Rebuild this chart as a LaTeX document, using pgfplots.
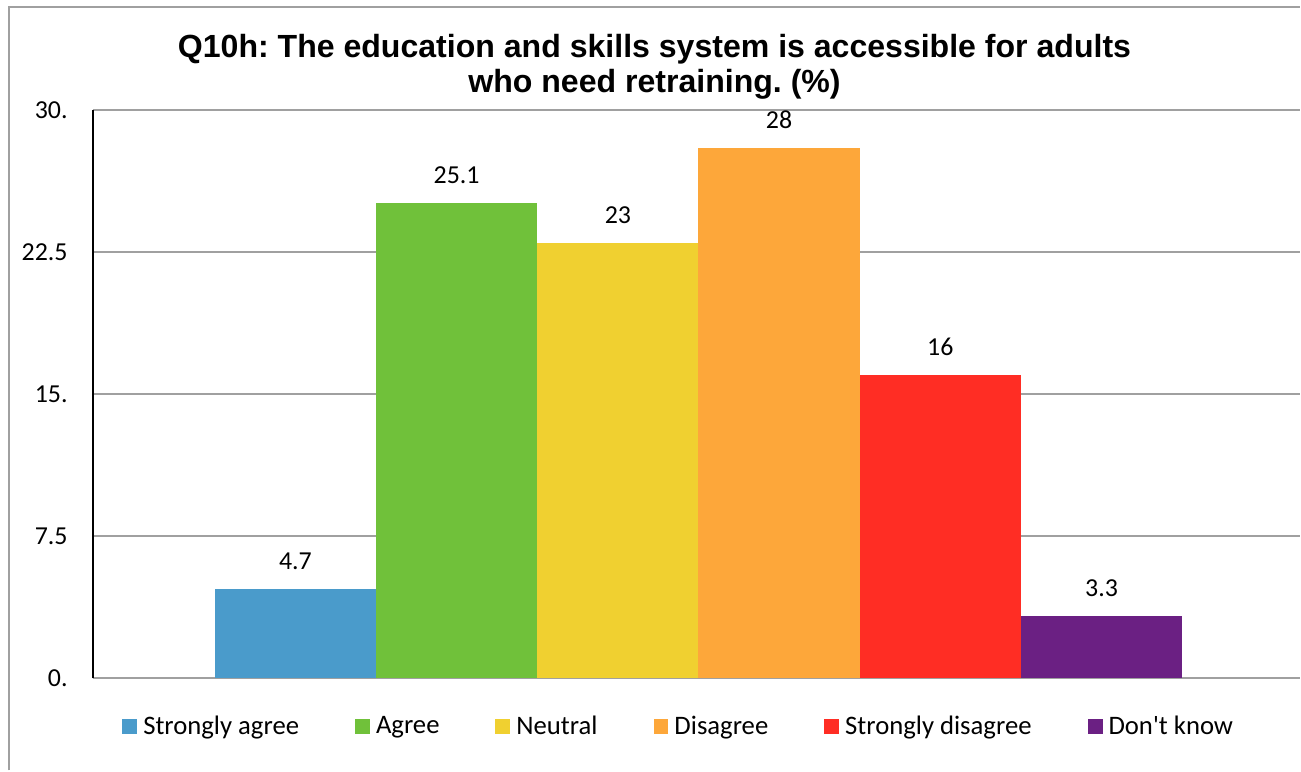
\documentclass[border=0pt]{standalone}
\usepackage{fontspec}
\setmainfont{Carlito}[Ligatures=TeXOff]
\newfontfamily\titlefont{Liberation Sans}
\usepackage{pgfplots}
\pgfplotsset{compat=1.18}
\frenchspacing
\definecolor{cSA}{RGB}{74,155,203}
\definecolor{cA}{RGB}{112,193,58}
\definecolor{cN}{RGB}{240,208,48}
\definecolor{cD}{RGB}{253,167,58}
\definecolor{cSD}{RGB}{255,45,36}
\definecolor{cDK}{RGB}{107,32,131}
\definecolor{gridgray}{RGB}{160,160,160}
\begin{document}
\begin{tikzpicture}[x=1bp,y=1bp]
\path (0,0) rectangle (650.5,385.5);
\draw[gridgray, line width=0.9bp] (4.5,0) -- (4.5,382) -- (650.5,382);
\node[anchor=base, font=\titlefont\bfseries\fontsize{16.1}{19}\selectfont] at (327.5,356.75) {Q10h: The education and skills system is accessible for adults};
\node[anchor=base, font=\titlefont\bfseries\fontsize{16.1}{19}\selectfont] at (327.5,339) {who need retraining. (\%)};
\begin{axis}[
  at={(46.5bp,46bp)}, anchor=south west,
  scale only axis, width=604bp, height=284.5bp,
  xmin=-0.256, xmax=7.231, ymin=0, ymax=30,
  ybar, bar width=1,
  axis x line*=bottom, axis y line*=left,
  x axis line style={gridgray, line width=1bp},
  y axis line style={black, line width=1bp},
  ymajorgrids, major grid style={gridgray, line width=1bp},
  xtick=\empty,
  ytick={0,7.5,15,22.5,30},
  yticklabels={0.,7.5,15.,22.5,30.},
  major tick length=0pt,
  yticklabel style={font=\fontsize{13}{15}\selectfont, inner sep=0pt, xshift=-12.5bp},
  /pgf/number format/assume math mode=true,
  nodes near coords,
  nodes near coords style={font=\fontsize{13}{15}\selectfont, inner sep=0pt, anchor=south, yshift=9.5bp, text=black},
  legend columns=6,
  legend style={at={(axis description cs:0.024,-0.0844)}, anchor=west, draw=none, fill=none,
    inner sep=0pt, font=\fontsize{13.4}{15}\selectfont, nodes={inner sep=0pt},
    /tikz/every odd column/.append style={column sep=3bp},
    /tikz/every even column/.append style={column sep=28bp}},
  legend cell align=left,
  legend image code/.code={\fill[#1] (0bp,-3.75bp) rectangle (7.5bp,3.75bp);},
]
\addplot[fill=cSA, draw=none, bar shift=0pt] coordinates {(1,4.7)};
\addlegendentry{Strongly agree}
\addplot[fill=cA, draw=none, bar shift=0pt] coordinates {(2,25.1)};
\addlegendentry{Agree}
\addplot[fill=cN, draw=none, bar shift=0pt] coordinates {(3,23)};
\addlegendentry{Neutral}
\addplot[fill=cD, draw=none, bar shift=0pt] coordinates {(4,28)};
\addlegendentry{Disagree}
\addplot[fill=cSD, draw=none, bar shift=0pt] coordinates {(5,16)};
\addlegendentry{Strongly disagree}
\addplot[fill=cDK, draw=none, bar shift=0pt] coordinates {(6,3.3)};
\addlegendentry{Don't know}
\end{axis}
\end{tikzpicture}
\end{document}
